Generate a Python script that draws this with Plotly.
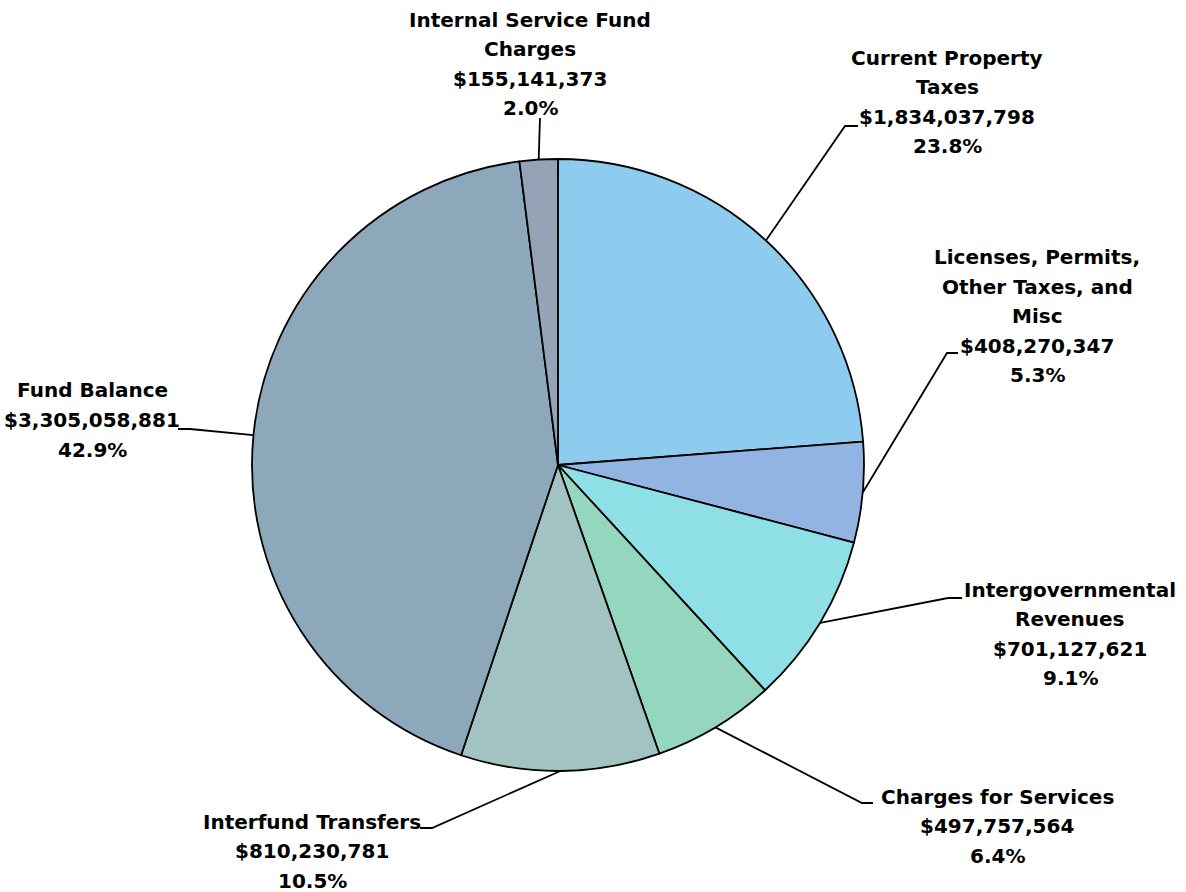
import math
import plotly.graph_objects as go

# ---- data ----
categories = [
    "Current Property Taxes",
    "Licenses, Permits, Other Taxes, and Misc",
    "Intergovernmental Revenues",
    "Charges for Services",
    "Interfund Transfers",
    "Fund Balance",
    "Internal Service Fund Charges",
]
values = [1834037798, 408270347, 701127621, 497757564, 810230781, 3305058881, 155141373]
percent_labels = ["23.8%", "5.3%", "9.1%", "6.4%", "10.5%", "42.9%", "2.0%"]
label_lines = [
    ["Current Property", "Taxes"],
    ["Licenses, Permits,", "Other Taxes, and", "Misc"],
    ["Intergovernmental", "Revenues"],
    ["Charges for Services"],
    ["Interfund Transfers"],
    ["Fund Balance"],
    ["Internal Service Fund", "Charges"],
]
colors = ["#8ECCEF", "#92B4E3", "#8EE0E6", "#95D6BE", "#A1C4C2", "#8EA8BB", "#96A2B5"]

# ---- layout (pixels) ----
W, H = 1186, 892
CX, CY, R = 558, 465, 306
# label block centre (x, y) per category
label_pos = [(947, 102), (1037, 316), (1070, 634), (997, 826), (312, 851), (92, 420), (530, 64)]
# leader line bend point and end point per category
leader = [
    [(845, 126), (858, 126)],
    [(947, 353), (958, 353)],
    [(948, 598), (962, 598)],
    [(862, 803), (873, 803)],
    [(432, 828), (420, 828)],
    [(190, 429), (178, 429)],
    [(540, 118), (540, 118)],
]
LINE_H = 29.5
FONT = dict(family="DejaVu Sans", size=20, color="#000000", weight="bold")


def px(x):
    return x / W


def py(y):
    return 1 - y / H


fig = go.Figure(
    go.Pie(
        labels=categories,
        values=values,
        sort=False,
        direction="clockwise",
        rotation=0,
        marker=dict(colors=colors, line=dict(color="#000000", width=1.8)),
        textinfo="none",
        hoverinfo="skip",
        showlegend=False,
        domain=dict(x=[px(CX - R), px(CX + R)], y=[py(CY + R), py(CY - R)]),
    )
)

annotations = []
shapes = []
total = sum(values)
cum = 0
for i, v in enumerate(values):
    lines = label_lines[i] + ["${:,}".format(v), percent_labels[i]]
    lx, ly = label_pos[i]
    n = len(lines)
    for j, t in enumerate(lines):
        yy = ly + (j - (n - 1) / 2) * LINE_H
        annotations.append(dict(
            x=px(lx), y=py(yy), xref="paper", yref="paper", text=t,
            showarrow=False, font=FONT, xanchor="center", yanchor="middle",
        ))
    ang = 2 * math.pi * (cum + v / 2) / total
    cum += v
    ex = CX + R * math.sin(ang)
    ey = CY - R * math.cos(ang)
    (bx, by), (tx, ty) = leader[i]
    path = "M {} {} L {} {} L {} {}".format(px(ex), py(ey), px(bx), py(by), px(tx), py(ty))
    shapes.append(dict(type="path", xref="paper", yref="paper", path=path,
                       line=dict(color="#000000", width=1.8)))

fig.update_layout(
    width=W, height=H,
    margin=dict(l=0, r=0, t=0, b=0),
    paper_bgcolor="white", plot_bgcolor="white",
    annotations=annotations, shapes=shapes,
)
fig.write_html("out.html")
